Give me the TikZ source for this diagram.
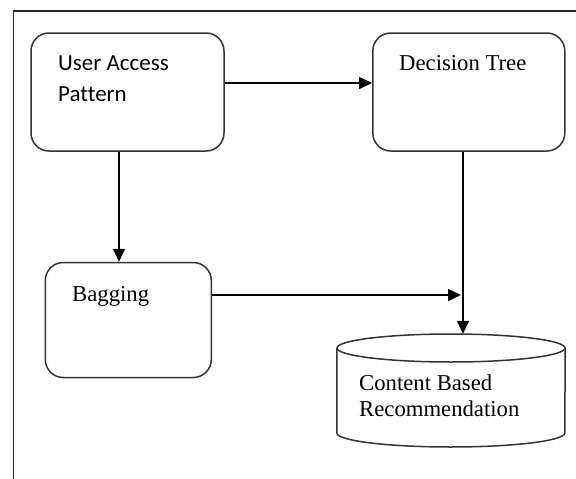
\documentclass[tikz,border=0pt]{standalone}
\usepackage{fontspec}
\setmainfont{Liberation Serif}
\newfontfamily\calib[Ligatures=NoCommon]{Carlito}
\usetikzlibrary{arrows.meta}
\begin{document}
\begin{tikzpicture}[x=1pt,y=-1pt,
  box/.style={draw=black!80,line width=1.5pt,rounded corners=18pt,inner sep=0pt},
  lbl/.style={anchor=base west,inner sep=0pt,font=\fontsize{22.7}{26}\selectfont},
  arr/.style={draw=black,line width=1.5pt,-{Triangle[length=13pt,width=12pt]}}]
\useasboundingbox (0,0) rectangle (576,479);
% outer frame
\draw[black!85,line width=1.2pt] (13.6,490) -- (13.6,11) -- (590,11);
% boxes
\node[box,minimum width=193pt,minimum height=118pt] (uap) at (127.5,92) {};
\node[box,minimum width=192pt,minimum height=118pt] (dt) at (468.8,92) {};
\node[box,minimum width=166pt,minimum height=115pt] (bag) at (128.3,320) {};
% cylinder
\node[inner sep=0pt,minimum width=228pt,minimum height=113pt] (cb) at (451,390.5) {};
\draw[black!80,line width=1.5pt] (cb.west |- 0,348) -- (cb.west |- 0,433)
  arc[start angle=180,end angle=360,x radius=114pt,y radius=14pt] -- (cb.east |- 0,348);
\draw[black!80,line width=1.5pt] (cb.center |- 0,348) ellipse[x radius=114pt,y radius=14pt];
% texts
\node[lbl,font=\calib\fontsize{23}{26}\selectfont] (t1) at (58,70) {User Access};
\node[lbl,font=\calib\fontsize{23}{26}\selectfont] (t2) at (58,101) {Pattern};
\node[lbl] (t3) at (399,70) {Decision Tree};
\node[lbl] (t4) at (72,301) {Bagging};
\node[lbl] (t5) at (359,390) {Content Based};
\node[lbl] (t6) at (359,416) {Recommendation};
% connectors
\coordinate (j) at (463,295);
\draw[arr] (uap.east |- 0,83) -- (dt.west |- 0,83);
\draw[arr] (uap.south -| 119,0) -- (bag.north -| 119,0);
\draw[arr] (bag.east |- j) -- ([xshift=-2pt]j);
\draw[arr] (dt.south -| j) -- (cb.north -| j);
\end{tikzpicture}
\end{document}
